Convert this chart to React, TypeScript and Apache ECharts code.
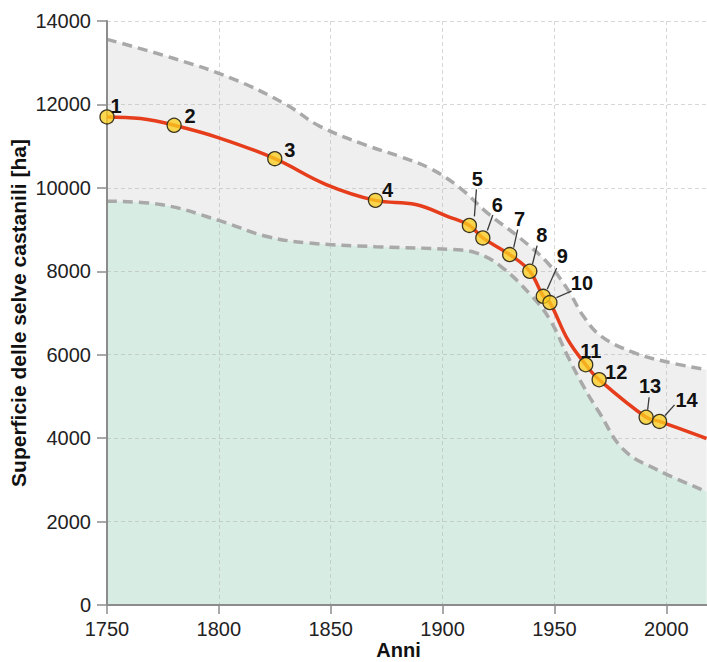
import React, { useEffect, useRef } from "react";
import * as echarts from "echarts";

// Axis tick labels
const xTickLabels = [1750, 1800, 1850, 1900, 1950, 2000];
const yTickLabels = [0, 2000, 4000, 6000, 8000, 10000, 12000, 14000];

// Numbered survey points
const pointYears = [1750, 1780, 1825, 1870, 1912, 1918, 1930, 1939, 1945, 1948, 1964, 1970, 1991, 1997];
const pointValues = [11700, 11500, 10700, 9700, 9100, 8800, 8400, 8000, 7400, 7250, 5760, 5400, 4500, 4400];
const pointLabels = ["1", "2", "3", "4", "5", "6", "7", "8", "9", "10", "11", "12", "13", "14"];

// Central estimate curve (red)
const curveYears = [1750, 1765, 1780, 1800, 1825, 1848, 1870, 1888, 1903, 1912, 1918, 1930, 1939, 1945, 1948, 1956, 1964, 1970, 1991, 1997, 2018];
const curveValues = [11700, 11660, 11500, 11200, 10700, 10080, 9700, 9600, 9300, 9100, 8800, 8400, 8000, 7400, 7250, 6360, 5760, 5400, 4500, 4400, 3990];

// Upper bound (dashed)
const upperYears = [1750, 1780, 1806, 1830, 1845, 1866, 1881, 1895, 1908, 1920, 1935, 1947, 1956, 1963, 1971, 1985, 2000, 2018];
const upperValues = [13560, 13100, 12620, 12000, 11480, 11020, 10750, 10450, 9990, 9400, 8780, 8200, 7560, 6920, 6440, 6060, 5830, 5640];

// Lower bound (dashed)
const lowerYears = [1750, 1774, 1800, 1821, 1840, 1870, 1905, 1915, 1926, 1940, 1948, 1956, 1963, 1970, 1981, 1996, 2018];
const lowerValues = [9680, 9600, 9220, 8840, 8680, 8590, 8520, 8440, 8120, 7400, 6840, 5960, 5240, 4620, 3720, 3240, 2720];

// Label placement (pixels relative to the point) — layout only
const labelOffsets = [
  [9, -11], [16, -9], [15, -9], [12, -10], [8, -46], [14.5, -33], [10, -36],
  [12, -36], [19, -40], [32, -20], [5, -14], [17, -8], [4, -31], [27, -21],
];
const leaderLines: (number[] | null)[] = [
  null, null, null, null,
  [7, -36, 5, -9], [10, -23, 4.5, -7.5], [8, -25, 4, -7], [7.3, -25.6, 2.7, -7.3],
  [13.4, -28.4, 4, -7], [21.7, -11.6, 6.5, -5], null, null,
  [3, -20, 1.5, -7.5], [15, -16.6, 5.5, -6],
];

const FONT = '"Liberation Sans", Arial, Helvetica, sans-serif';

const pairs = (xs: number[], ys: number[]) => xs.map((x, i) => [x, ys[i]]);

export default function App() {
  const ref = useRef<HTMLDivElement>(null);
  useEffect(() => {
    const chart = echarts.init(ref.current!, null, { renderer: "svg" });
    const option: any = {
      animation: false,
      backgroundColor: "#ffffff",
      grid: { left: 107, right: -4, top: 21, bottom: 57, containLabel: false, outerBoundsMode: "none" },
      xAxis: {
        type: "value",
        min: 1750,
        max: 2020,
        interval: 10,
        z: 3,
        name: "Anni",
        nameLocation: "middle",
        nameGap: 35,
        nameMoveOverlap: false,
        nameTextStyle: { fontWeight: "bold", fontSize: 20, color: "#111", fontFamily: FONT, padding: [0, 21, 0, 0] },
        axisLine: { show: true, onZero: false, lineStyle: { color: "#8c8c8c", width: 2 } },
        axisTick: { show: true, length: 9, customValues: xTickLabels, lineStyle: { color: "#8c8c8c", width: 1.5 } },
        axisLabel: { customValues: xTickLabels, formatter: (v: number) => String(v), fontSize: 20, color: "#222", margin: 14, fontFamily: FONT },
        splitLine: { show: true, lineStyle: { color: "rgba(175,175,175,0.5)", type: [4, 3], width: 1 } },
      },
      yAxis: {
        type: "value",
        min: 0,
        max: 14000,
        interval: 1000,
        z: 3,
        name: "Superficie delle selve castanili [ha]",
        nameLocation: "middle",
        nameRotate: 90,
        nameGap: 78,
        nameMoveOverlap: false,
        nameTextStyle: { fontWeight: "bold", fontSize: 21, color: "#111", fontFamily: FONT },
        axisLine: { show: true, lineStyle: { color: "#8c8c8c", width: 2 } },
        axisTick: { show: true, length: 10, customValues: yTickLabels, lineStyle: { color: "#8c8c8c", width: 1.5 } },
        axisLabel: { customValues: yTickLabels, formatter: (v: number) => String(v), fontSize: 20, color: "#222", margin: 16, fontFamily: FONT },
        splitLine: { show: true, lineStyle: { color: "rgba(175,175,175,0.5)", type: [4, 3], width: 1 } },
      },
      series: [
        {
          type: "line",
          name: "upper",
          data: pairs(upperYears, upperValues),
          smooth: 0.4,
          symbol: "none",
          z: 1,
          lineStyle: { color: "#a9a9a9", width: 3.5, type: [10, 6] },
          areaStyle: { color: "#efefef", opacity: 1, origin: "start" },
        },
        {
          type: "line",
          name: "lower",
          data: pairs(lowerYears, lowerValues),
          smooth: 0.4,
          symbol: "none",
          z: 2,
          lineStyle: { color: "#a9a9a9", width: 3.5, type: [10, 6] },
          areaStyle: { color: "#d7ece2", opacity: 1, origin: "start" },
        },
        {
          type: "line",
          name: "curve",
          data: pairs(curveYears, curveValues),
          smooth: 0.4,
          symbol: "none",
          z: 5,
          lineStyle: { color: "#e63e1c", width: 3.5 },
        },
        {
          type: "custom",
          name: "points",
          z: 6,
          clip: false,
          data: pairs(pointYears, pointValues),
          encode: { x: 0, y: 1 },
          renderItem: (params: any, api: any) => {
            const i = params.dataIndex;
            const p = api.coord([api.value(0), api.value(1)]);
            const off = labelOffsets[i];
            const lead = leaderLines[i];
            const children: any[] = [];
            if (lead) {
              children.push({
                type: "line",
                shape: { x1: p[0] + lead[0], y1: p[1] + lead[1], x2: p[0] + lead[2], y2: p[1] + lead[3] },
                style: { stroke: "#3a3a3a", lineWidth: 1.3 },
              });
            }
            children.push({
              type: "circle",
              shape: { cx: p[0], cy: p[1], r: 7 },
              style: { fill: "rgba(250,205,30,0.78)", stroke: "#3b3520", lineWidth: 1.3 },
            });
            children.push({
              type: "text",
              x: p[0] + off[0],
              y: p[1] + off[1],
              style: {
                text: pointLabels[i],
                fill: "#111",
                fontSize: 20,
                fontWeight: "bold",
                fontFamily: FONT,
                align: "center",
                verticalAlign: "middle",
              },
            });
            return { type: "group", children };
          },
        },
      ],
    };
    chart.setOption(option);
    return () => chart.dispose();
  }, []);
  return <div ref={ref} style={{ position: "absolute", left: 0, top: 0, width: 707, height: 662 }} />;
}
